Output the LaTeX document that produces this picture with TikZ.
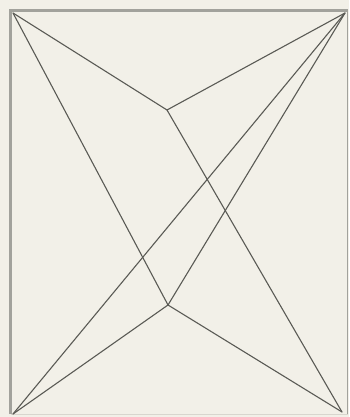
\documentclass[tikz,border=0pt]{standalone}
\definecolor{bg}{HTML}{F2F0E8}
\definecolor{edge}{HTML}{5A5A55}
\definecolor{frame}{HTML}{A2A29C}
\definecolor{faint}{HTML}{D8D6CE}
\begin{document}
\begin{tikzpicture}[x=1pt,y=-1pt,
  link/.style={draw=edge,line width=1.1pt,line cap=round},
  frameline/.style={draw=frame,line width=2.4pt},
  thinframe/.style={draw=frame,line width=1pt}]
\fill[bg] (0,0) rectangle (349,417);
\useasboundingbox (0,0) rectangle (349,417);
\coordinate (ftl) at (10.5,10.5);
\coordinate (ftr) at (347.5,10.5);
\coordinate (fbl) at (10.5,414);
\coordinate (fbr) at (347.5,414);
\draw[draw=faint,line width=1pt] (fbl) -- (fbr);
\draw[thinframe] (ftr) -- (fbr);
\draw[frameline] (fbl) -- (ftl) -- (ftr);
\coordinate (TL) at (13,13);
\coordinate (TR) at (345,13);
\coordinate (BL) at (13,414);
\coordinate (BR) at (342,412);
\coordinate (P1) at (167,110);
\coordinate (P2) at (168,305);
\draw[link] (TL) -- (P1);
\draw[link] (P1) -- (TR);
\draw[link] (P1) -- (BR);
\draw[link] (TL) -- (P2);
\draw[link] (P2) -- (BL);
\draw[link] (P2) -- (BR);
\draw[link] (TR) -- (BL);
\draw[link] (TR) -- (P2);
\end{tikzpicture}
\end{document}
